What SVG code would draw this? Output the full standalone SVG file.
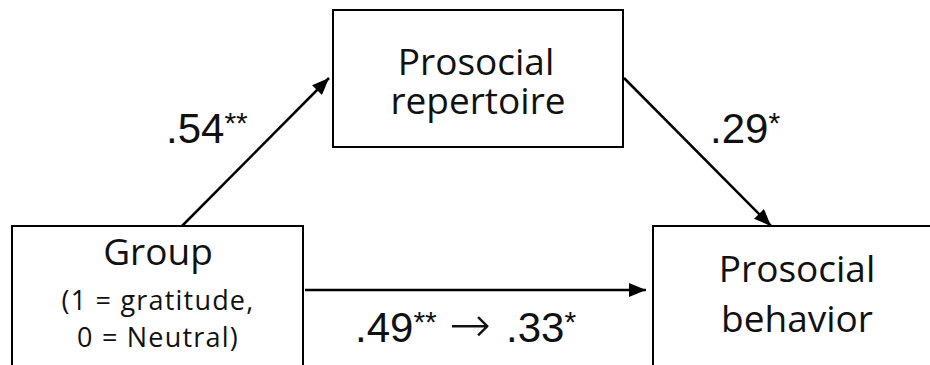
<svg xmlns="http://www.w3.org/2000/svg" width="930" height="365" viewBox="0 0 930 365">
  <style>
    .box { fill: #ffffff; stroke: #000000; stroke-width: 2; }
    .node-text { font-family: "Open Sans", "Noto Sans", sans-serif; fill: #111111; text-anchor: middle; }
    .big { font-size: 37px; }
    .small { font-size: 27px; letter-spacing: 1.2px; }
    .label { font-family: "Liberation Sans", Arial, sans-serif; font-size: 42px; fill: #111111; }
    .star { font-size: 30px; }
    .arr { font-family: "DejaVu Sans", sans-serif; font-weight: 200; font-size: 50px; }
    .edge { stroke: #000000; stroke-width: 2.5; fill: none; marker-end: url(#arrow); }
  </style>
  <defs>
    <marker id="arrow" markerUnits="userSpaceOnUse" markerWidth="18" markerHeight="14" refX="17" refY="7" orient="auto">
      <path d="M0,0 L17,7 L0,14 Z" fill="#000000"/>
    </marker>
  </defs>
  <rect width="930" height="365" fill="#ffffff"/>

  <g id="connectors">
    <line class="edge" x1="182" y1="226" x2="329" y2="78"/>
    <line class="edge" x1="624" y1="78" x2="771" y2="226"/>
    <line class="edge" x1="305" y1="290" x2="646" y2="290"/>
  </g>

  <g id="group">
    <rect class="box" x="12" y="226" width="291" height="150"/>
    <text class="node-text big" x="158" y="265">Group</text>
    <text class="node-text small" x="158" y="310">(1 = gratitude,</text>
    <text class="node-text small" x="158" y="347">0 = Neutral)</text>
  </g>

  <g id="repertoire">
    <rect class="box" x="333" y="10" width="290" height="137"/>
    <text class="node-text big" x="476" y="75">Prosocial</text>
    <text class="node-text big" x="478" y="114">repertoire</text>
  </g>

  <g id="behavior">
    <rect class="box" x="653" y="226" width="300" height="150"/>
    <text class="node-text big" x="797" y="282">Prosocial</text>
    <text class="node-text big" x="797" y="332">behavior</text>
  </g>

  <g id="labels">
    <text class="label" x="166" y="143">.54<tspan class="star" dy="-10">**</tspan></text>
    <text class="label" x="710" y="143">.29<tspan class="star" dy="-10">*</tspan></text>
    <text class="label" y="342"><tspan x="355">.49</tspan><tspan class="star" dy="-10">**</tspan><tspan class="arr" x="449" dy="10">→</tspan><tspan x="506">.33</tspan><tspan class="star" dy="-10">*</tspan></text>
  </g>
</svg>
